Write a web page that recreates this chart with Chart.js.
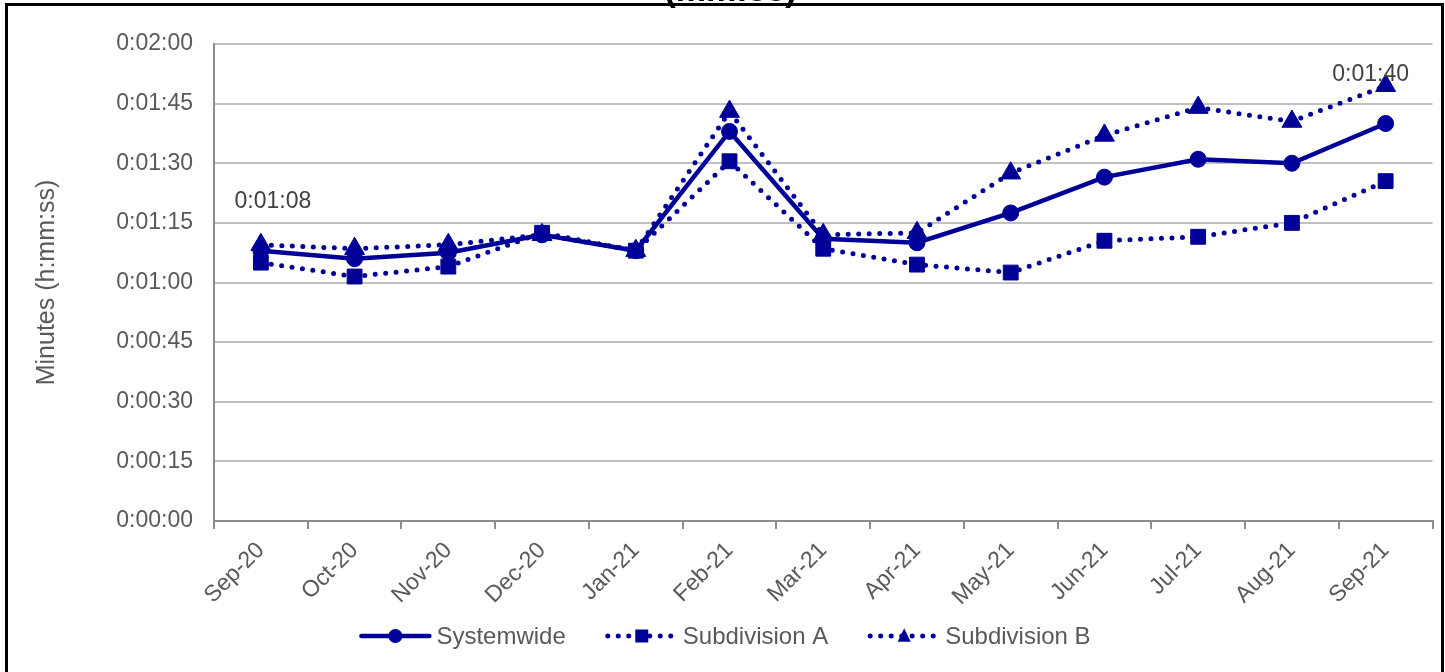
<!DOCTYPE html>
<html>
<head>
<meta charset="utf-8">
<script src="https://cdn.jsdelivr.net/npm/chart.js@4.4.1/dist/chart.umd.min.js"></script>
<style>
  html, body { margin: 0; padding: 0; background: #fff; overflow: hidden; }
  #wrap { position: relative; width: 1445px; height: 672px; }
  #chart { position: absolute; left: 0; top: 0; }
  #frame { position: absolute; left: 5px; top: 3px; width: 1433px; height: 700px; border: 3px solid #000; pointer-events: none; }
  #title { position: absolute; left: 0; width: 1445px; top: -28px; text-align: center; font: bold 34px "Liberation Sans", Arial, sans-serif; line-height: 34px; color: #000; padding-left: 16px; box-sizing: border-box; }
</style>
</head>
<body>
<div id="wrap">
  <canvas id="chart" width="1445" height="672"></canvas>
  <div id="title">(mm:ss)</div>
  <div id="frame"></div>
</div>
<script>
// ---- dados (segundos) ----
const meses = ['Sep-20', 'Oct-20', 'Nov-20', 'Dec-20', 'Jan-21', 'Feb-21', 'Mar-21', 'Apr-21', 'May-21', 'Jun-21', 'Jul-21', 'Aug-21', 'Sep-21'];
const systemwide = [68, 66, 67.5, 72, 68, 98, 71, 70, 77.5, 86.5, 91, 90, 100];
const subdivisionA = [65, 61.5, 64, 72.5, 68, 90.5, 68.5, 64.5, 62.5, 70.5, 71.5, 75, 85.5];
const subdivisionB = [69.5, 68.5, 69.5, 72, 68, 103, 72, 72.5, 87.5, 97, 104, 100.5, 109.5];
const yTicks = [0, 15, 30, 45, 60, 75, 90, 105, 120];
const serieNomes = ['Systemwide', 'Subdivision A', 'Subdivision B'];
// rótulos de dados mostrados na série Systemwide
const rotulosIdx = [0, 12];

const AZUL = '#000099';
const FONTE = '"Liberation Sans", Arial, sans-serif';

function fmtTempo(s) {
    s = Math.round(s);
    const h = Math.floor(s / 3600);
    const m = Math.floor((s % 3600) / 60);
    const ss = s % 60;
    return h + ':' + String(m).padStart(2, '0') + ':' + String(ss).padStart(2, '0');
}

// rótulos de dados (estilo Excel)
const rotulosPlugin = {
    id: 'rotulos',
    afterDatasetsDraw(chart, args, opts) {
        const ctx = chart.ctx;
        const xs = chart.scales.x, ys = chart.scales.y;
        ctx.save();
        ctx.font = '23px ' + FONTE;
        ctx.fillStyle = '#404040';
        ctx.textAlign = 'center';
        ctx.textBaseline = 'middle';
        rotulosIdx.forEach((i, k) => {
            const x = xs.getPixelForValue(i) + opts.dx[k];
            const y = ys.getPixelForValue(systemwide[i]) - 49;
            ctx.fillText(fmtTempo(systemwide[i]), x, y);
        });
        ctx.restore();
    }
};

// desenha marcador na legenda
function marcador(ctx, tipo, x, y, r) {
    ctx.beginPath();
    if (tipo === 'circle') {
        ctx.arc(x, y, r, 0, Math.PI * 2);
    } else if (tipo === 'rect') {
        ctx.rect(x - r, y - r, 2 * r, 2 * r);
    } else {
        ctx.moveTo(x, y - r * 1.2);
        ctx.lineTo(x + r, y + r * 0.9);
        ctx.lineTo(x - r, y + r * 0.9);
        ctx.closePath();
    }
    ctx.fill();
}

// legenda estilo Excel (linha + marcador)
const legendaPlugin = {
    id: 'legendaExcel',
    afterDraw(chart) {
        const ctx = chart.ctx;
        const y = 636;
        const amostra = 72, gap = 5, espaco = 40;
        ctx.save();
        ctx.font = '24px ' + FONTE;
        const larguras = chart.data.datasets.map(d => amostra + gap + ctx.measureText(d.label).width);
        const total = larguras.reduce((a, b) => a + b, 0) + espaco * (larguras.length - 1);
        let x = 725 - total / 2;
        chart.data.datasets.forEach((d, i) => {
            ctx.strokeStyle = AZUL;
            ctx.fillStyle = AZUL;
            ctx.lineWidth = d.borderWidth;
            ctx.lineCap = 'round';
            ctx.setLineDash(d.borderDash || []);
            ctx.beginPath();
            ctx.moveTo(x + 2, y);
            ctx.lineTo(x + amostra - 2, y);
            ctx.stroke();
            ctx.setLineDash([]);
            const r = d.pointStyle === 'circle' ? 7 : 6.5;
            marcador(ctx, d.pointStyle, x + amostra / 2, y, r);
            ctx.fillStyle = '#595959';
            ctx.textAlign = 'left';
            ctx.textBaseline = 'middle';
            ctx.fillText(d.label, x + amostra + gap, y + 1);
            x += larguras[i] + espaco;
        });
        ctx.restore();
    }
};

const ctx = document.getElementById('chart').getContext('2d');
new Chart(ctx, {
    type: 'line',
    data: {
        labels: meses,
        datasets: [
            {
                label: serieNomes[0],
                data: systemwide,
                borderColor: AZUL,
                backgroundColor: AZUL,
                borderWidth: 4.5,
                pointStyle: 'circle',
                pointRadius: 8,
                pointBorderWidth: 1,
                tension: 0
            },
            {
                label: serieNomes[1],
                data: subdivisionA,
                borderColor: AZUL,
                backgroundColor: AZUL,
                borderWidth: 5,
                borderDash: [0, 10.5],
                borderCapStyle: 'round',
                pointStyle: 'rect',
                pointRadius: 10.5,
                pointBorderWidth: 1,
                tension: 0
            },
            {
                label: serieNomes[2],
                data: subdivisionB,
                borderColor: AZUL,
                backgroundColor: AZUL,
                borderWidth: 5,
                borderDash: [0, 10.5],
                borderCapStyle: 'round',
                pointStyle: 'triangle',
                pointRadius: 11.5,
                pointBorderWidth: 1,
                tension: 0
            }
        ]
    },
    options: {
        responsive: false,
        animation: false,
        layout: { padding: { left: 8, right: 8, top: 44, bottom: 0 } },
        plugins: {
            legend: { display: false },
            tooltip: { enabled: false },
            rotulos: { dx: [12, -15] }
        },
        scales: {
            x: {
                offset: true,
                afterFit: (s) => { s.height = 151; },
                grid: {
                    offset: true,
                    drawOnChartArea: false,
                    drawTicks: true,
                    tickLength: 8,
                    color: '#8c8c8c',
                    lineWidth: 2
                },
                border: { color: '#8c8c8c', width: 2 },
                ticks: {
                    autoSkip: false,
                    minRotation: 45,
                    maxRotation: 45,
                    padding: 8,
                    color: '#595959',
                    font: { family: FONTE, size: 23 }
                }
            },
            y: {
                min: 0,
                max: 120,
                afterFit: (s) => { s.width = 206; },
                afterBuildTicks: (s) => { s.ticks = yTicks.map(v => ({ value: v })); },
                grid: { color: '#c0c0c0', lineWidth: 2, drawTicks: false },
                border: { color: '#8c8c8c', width: 2 },
                ticks: {
                    padding: 21,
                    color: '#595959',
                    font: { family: FONTE, size: 23 },
                    callback: (v) => fmtTempo(v)
                },
                title: {
                    display: true,
                    text: 'Minutes (h:mm:ss)',
                    color: '#595959',
                    font: { family: FONTE, size: 25 },
                    padding: { top: 24, bottom: 0 }
                }
            }
        }
    },
    plugins: [rotulosPlugin, legendaPlugin]
});
</script>
</body>
</html>
